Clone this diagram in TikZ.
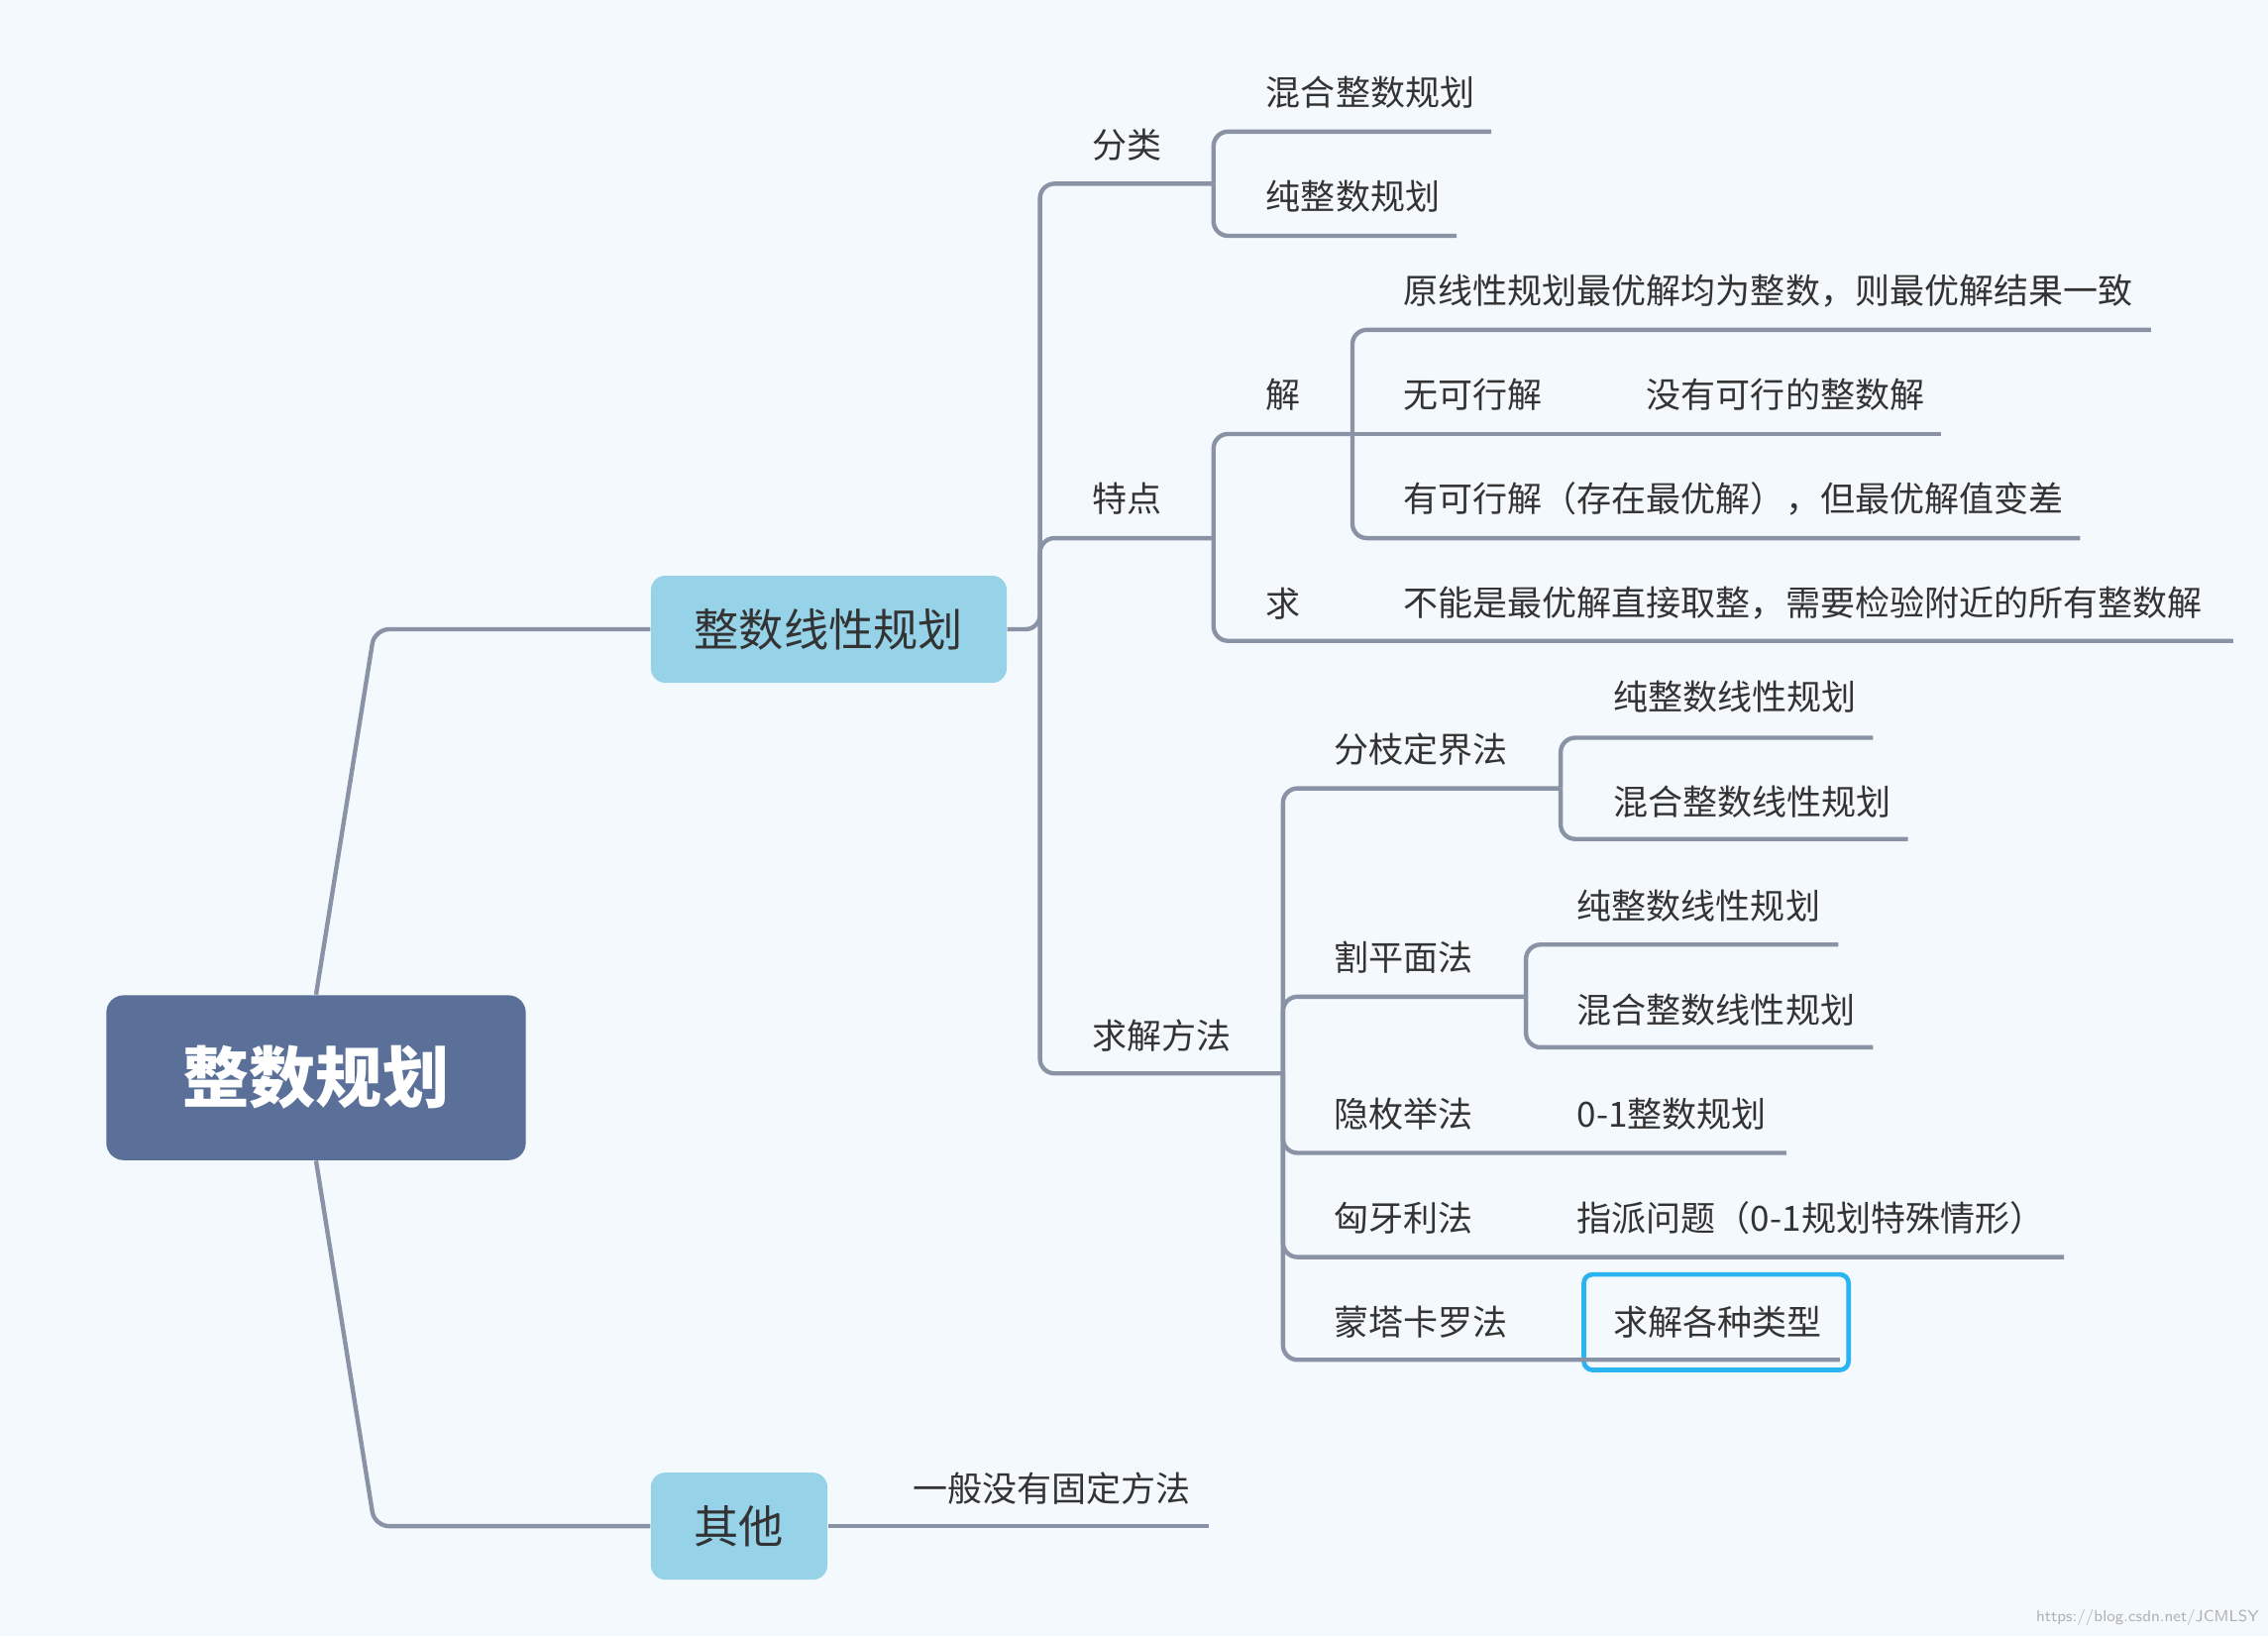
\documentclass[tikz,border=0pt]{standalone}
\usepackage{fontspec}
\newfontfamily\cjk{Noto Sans CJK SC}
\definecolor{bg}{HTML}{F4F9FD}
\definecolor{ln}{HTML}{8A93A6}
\definecolor{tx}{HTML}{333333}
\definecolor{rootc}{HTML}{5A7099}
\definecolor{boxc}{HTML}{96D2E8}
\definecolor{hl}{HTML}{2AB4F2}
\begin{document}
\begin{tikzpicture}[x=0.5pt,y=-0.5pt,
  txt/.style={anchor=west,inner sep=0pt,font=\cjk\fontsize{12}{14}\selectfont,text=tx},
  conn/.style={draw=ln,line width=1.5pt,rounded corners=5pt},
  bigbox/.style={fill=boxc,rounded corners=5pt,inner sep=0pt,font=\cjk\fontsize{15.5}{18}\selectfont,text=tx}]
\fill[bg] (0,0) rectangle (1568,1131);
\useasboundingbox (0,0) rectangle (1568,1131);
% boxes
\node[fill=rootc,rounded corners=6pt,minimum width=145pt,minimum height=57pt,inner sep=0pt,font=\cjk\bfseries\fontsize{23}{26}\selectfont,text=white] (root) at (218.5,745) {整数规划};
\node[bigbox,minimum width=123pt,minimum height=37pt] (ilp) at (573,435) {整数线性规划};
\node[bigbox,minimum width=61pt,minimum height=37pt] (oth) at (511,1055) {其他};
% texts
\node[txt] (fl) at (755,100) {分类};
\node[txt] (a1) at (875,64) {混合整数规划};
\node[txt] (a2) at (875,136) {纯整数规划};
\node[txt] (td) at (755,345) {特点};
\node[txt] (jie) at (875,273) {解};
\node[txt] (b1) at (970,201) {原线性规划最优解均为整数，则最优解结果一致};
\node[txt] (b2) at (970,273) {无可行解};
\node[txt] (b2b) at (1138,273) {没有可行的整数解};
\node[txt] (b3) at (970,345) {有可行解（存在最优解），但最优解值变差};
\node[txt] (qiu) at (875,417) {求};
\node[txt] (c1) at (970,417) {不能是最优解直接取整，需要检验附近的所有整数解};
\node[txt] (qj) at (755,716) {求解方法};
\node[txt] (d1) at (922,518) {分枝定界法};
\node[txt] (d11) at (1115,482) {纯整数线性规划};
\node[txt] (d12) at (1115,554) {混合整数线性规划};
\node[txt] (d2) at (922,662) {割平面法};
\node[txt] (d21) at (1090,626) {纯整数线性规划};
\node[txt] (d22) at (1090,698) {混合整数线性规划};
\node[txt] (d3) at (922,770) {隐枚举法};
\node[txt] (d31) at (1090,770) {0-1整数规划};
\node[txt] (d4) at (922,842) {匈牙利法};
\node[txt] (d41) at (1090,842) {指派问题（0-1规划特殊情形）};
\node[txt] (d5) at (922,914) {蒙塔卡罗法};
\node[txt] (d51) at (1115,914) {求解各种类型};
\draw[hl,line width=1.6pt,rounded corners=3pt] (1095,881) rectangle (1278,947);
\node[txt] (e1) at (631,1029) {一般没有固定方法};
\node[anchor=east,inner sep=0pt,font=\sffamily\fontsize{5.5}{6}\selectfont,text=gray!60] (wm) at (1562,1118) {https://blog.csdn.net/JCMLSY};
% connectors
\draw[conn] (root.north) -- (259,435) -- (ilp.west);
\draw[conn] (root.south) -- (259,1055) -- (oth.west);
\draw[conn] (oth.east) -- (836,1055);
\draw[conn] (ilp.east) -- (719,435) -- (719,127) -- (839,127);
\draw[conn] (719,435) -- (719,372) -- (839,372);
\draw[conn] (719,435) -- (719,742) -- (887,742);
\draw[conn] (839,127) -- (839,91) -- (1031,91);
\draw[conn] (839,127) -- (839,163) -- (1007,163);
\draw[conn] (839,372) -- (839,300) -- (935,300);
\draw[conn] (839,372) -- (839,443) -- (1544,443);
\draw[conn] (935,300) -- (935,228) -- (1487,228);
\draw[conn] (935,300) -- (1342,300);
\draw[conn] (935,300) -- (935,372) -- (1438,372);
\draw[conn] (887,742) -- (887,545) -- (1079,545);
\draw[conn] (887,742) -- (887,689) -- (1055,689);
\draw[conn] (887,742) -- (887,797) -- (1235,797);
\draw[conn] (887,742) -- (887,869) -- (1427,869);
\draw[conn] (887,742) -- (887,940) -- (1272,940);
\draw[conn] (1079,545) -- (1079,510) -- (1295,510);
\draw[conn] (1079,545) -- (1079,580) -- (1319,580);
\draw[conn] (1055,689) -- (1055,653) -- (1271,653);
\draw[conn] (1055,689) -- (1055,724) -- (1295,724);
\end{tikzpicture}
\end{document}
